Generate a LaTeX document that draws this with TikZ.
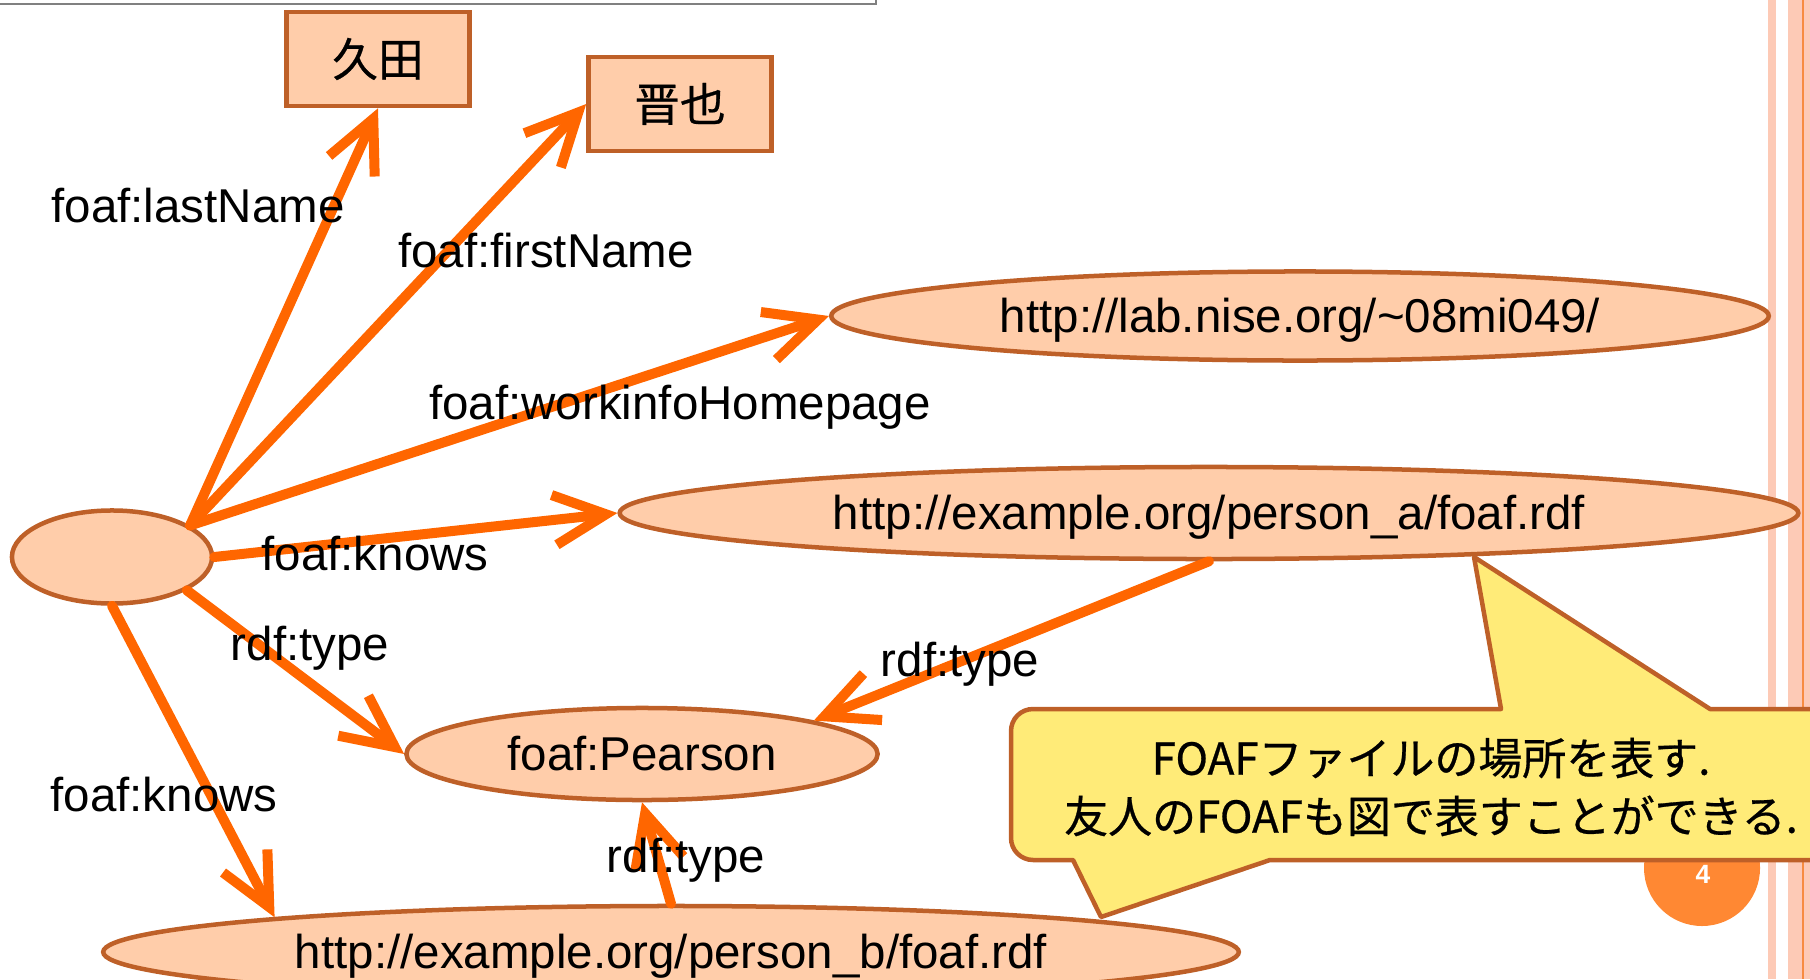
\documentclass[tikz,border=0pt]{standalone}
\usepackage{fontspec}
\setmainfont{Liberation Sans}
\newfontfamily\jpfont[FakeBold=0.6]{Noto Sans CJK JP}
\usepackage{tikz}
\usetikzlibrary{arrows.meta, shapes.geometric}
\definecolor{nodefill}{RGB}{255,205,170}
\definecolor{nodeline}{RGB}{190,96,40}
\definecolor{arrowc}{RGB}{255,102,0}
\definecolor{notefill}{RGB}{255,235,120}
\definecolor{stripe}{RGB}{253,202,182}
\definecolor{stripeline}{RGB}{247,140,64}
\definecolor{pagenum}{RGB}{255,136,51}

\begin{document}
\begin{tikzpicture}[x=0.01cm, y=-0.01cm]
\tikzstyle{res}=[ellipse, draw=nodeline, fill=nodefill, line width=0.45mm, inner sep=0pt, text height=11.8pt, text depth=2.7pt, font=\fontsize{13.5}{16}\selectfont]
\tikzstyle{lit}=[rectangle, draw=nodeline, fill=nodefill, line width=0.45mm, inner sep=0pt, minimum width=1.83cm, minimum height=0.94cm, font=\jpfont\fontsize{13}{16}\selectfont]
\tikzstyle{arr}=[draw=arrowc, line width=1mm, line cap=round, line join=round, -{Straight Barb[length=5.2mm,width=5mm]}]
\tikzstyle{lbl}=[inner sep=0pt, text height=9.9pt, text depth=0pt, font=\fontsize{13.5}{16}\selectfont]
\useasboundingbox (0,0) rectangle (1810,979);

% slide frame
\fill[stripe] (1768,0) rectangle (1776,979);
\fill[stripe] (1788,0) rectangle (1810,979);
\draw[stripeline, line width=0.2mm] (1803,0) -- (1803,979);
\draw[gray, line width=0.25mm, fill=white] (-10,-30) rectangle (876,4);
\fill[pagenum] (1702,868) circle (58);
\node[text=white, font=\bfseries\fontsize{7.5}{9}\selectfont] (page) at (1703,874) {4};

\node[res, minimum width=2cm, minimum height=0.93cm] (blank) at (112,557) {};
\node[lit] (kuda) at (378,59) {久田};
\node[lit] (shinya) at (680,104) {晋也};
\node[res, minimum width=9.37cm, minimum height=0.89cm] (lab) at (1300,316) {http://lab.nise.org/\textasciitilde 08mi049/};
\node[res, minimum width=11.78cm, minimum height=0.92cm] (pa) at (1209,513) {http://example.org/person\_a/foaf.rdf};
\node[res, minimum width=4.71cm, minimum height=0.92cm] (pearson) at (642,754) {foaf:Pearson};
\node[res, minimum width=11.35cm, minimum height=0.92cm] (pb) at (671,952) {http://example.org/person\_b/foaf.rdf};

\path (blank.22) edge[arr] (kuda.south)
    edge[arr] (shinya.west)
    edge[arr] (lab.west);
\path (blank.east) edge[arr] (pa.west);
\path (blank.-24) edge[arr] (pearson.west);
\path (blank.south) edge[arr] (pb.175);
\path (pa.south) edge[arr] (pearson.11);
\path (pb.north) edge[arr] (pearson.south);

\node[lbl] (l-last) at (198,205) {foaf:lastName};
\node[lbl] (l-first) at (546,250) {foaf:firstName};
\node[lbl] (l-home) at (680,402) {foaf:workinfoHomepage};
\node[lbl] (l-knows1) at (375,553) {foaf:knows};
\node[lbl] (l-type1) at (310,643) {rdf:type};
\node[lbl] (l-type2) at (960,659) {rdf:type};
\node[lbl] (l-knows2) at (164,794) {foaf:knows};
\node[lbl] (l-type3) at (686,855) {rdf:type};

% callout
\draw[draw=nodeline, fill=notefill, line width=0.45mm, line join=round]
  (1474,557) -- (1710,709) -- (1850,709) -- (1850,860) -- (1270,860)
  -- (1101,917) -- (1073,860) [rounded corners=0.22cm] -- (1011,860)
  -- (1011,709) [sharp corners] -- (1501,709) -- cycle;
\node[align=center, inner sep=0pt, font=\jpfont\fontsize{12.5}{16.5}\selectfont] (note) at (1431,787)
  {FOAFファイルの場所を表す.\\友人のFOAFも図で表すことができる.};
\end{tikzpicture}
\end{document}
